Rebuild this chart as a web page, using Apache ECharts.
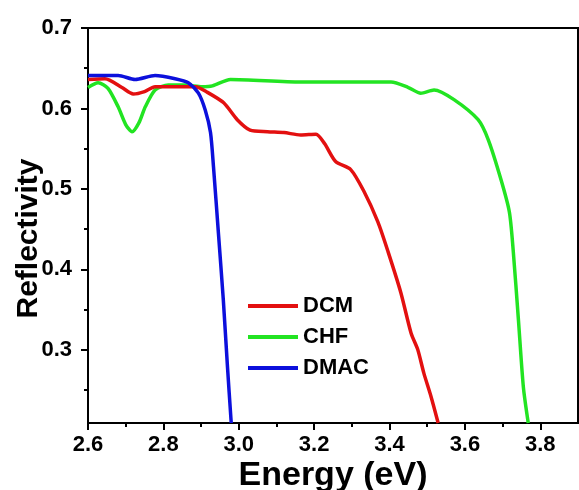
<!DOCTYPE html>
<html>
<head>
<meta charset="utf-8">
<script src="https://cdn.jsdelivr.net/npm/echarts@6/dist/echarts.min.js"></script>
<style>html,body{margin:0;padding:0;background:#fff}#c{width:579px;height:490px}</style>
</head>
<body>
<div id="c"></div>
<script>
const seriesNames = ['DCM', 'CHF', 'DMAC'];
const dcmE = [2.600, 2.645, 2.690, 2.720, 2.750, 2.778, 2.830, 2.885, 2.917, 2.960, 2.996, 3.030, 3.076, 3.120, 3.164, 3.205, 3.228, 3.257, 3.297, 3.332, 3.369, 3.396, 3.430, 3.457, 3.475, 3.491, 3.510, 3.529];
const dcmR = [0.636, 0.637, 0.626, 0.618, 0.621, 0.627, 0.627, 0.627, 0.620, 0.607, 0.586, 0.573, 0.571, 0.570, 0.567, 0.568, 0.556, 0.534, 0.524, 0.497, 0.459, 0.422, 0.371, 0.321, 0.300, 0.271, 0.242, 0.209];
const chfE = [2.600, 2.627, 2.653, 2.680, 2.700, 2.717, 2.735, 2.752, 2.778, 2.813, 2.858, 2.903, 2.930, 2.978, 3.164, 3.404, 3.450, 3.483, 3.518, 3.571, 3.635, 3.662, 3.696, 3.718, 3.728, 3.742, 3.755, 3.768];
const chfR = [0.626, 0.632, 0.625, 0.602, 0.580, 0.571, 0.582, 0.602, 0.623, 0.629, 0.629, 0.627, 0.628, 0.636, 0.633, 0.633, 0.626, 0.619, 0.623, 0.611, 0.586, 0.561, 0.511, 0.471, 0.424, 0.337, 0.254, 0.209];
const dmacE = [2.600, 2.650, 2.680, 2.725, 2.778, 2.831, 2.866, 2.893, 2.911, 2.925, 2.933, 2.946, 2.959, 2.970, 2.980];
const dmacR = [0.641, 0.641, 0.641, 0.636, 0.641, 0.637, 0.632, 0.619, 0.598, 0.570, 0.527, 0.445, 0.362, 0.279, 0.209];
const xMajor = [2.6, 2.8, 3.0, 3.2, 3.4, 3.6, 3.8];
const xMinor = [2.7, 2.9, 3.1, 3.3, 3.5, 3.7];
const yMajor = [0.3, 0.4, 0.5, 0.6, 0.7];
const yMinor = [0.25, 0.35, 0.45, 0.55, 0.65];

const colors = ['#e31010', '#22e422', '#0c10dc'];
const font = "'Liberation Sans', Arial, sans-serif";
const zip = (a, b) => a.map((v, i) => [v, b[i]]);
const dataSets = [zip(dcmE, dcmR), zip(chfE, chfR), zip(dmacE, dmacR)];

const chart = echarts.init(document.getElementById('c'));
chart.setOption({
  animation: false,
  grid: { left: 88, right: 1, top: 28, bottom: 67, show: true, borderColor: '#000', borderWidth: 2, containLabel: false, outerBoundsMode: 'none' },
  legend: {
    orient: 'vertical', left: 243, top: 290, itemWidth: 50, itemHeight: 4, itemGap: 9,
    icon: 'rect',
    textStyle: { fontFamily: font, fontWeight: 'bold', fontSize: 22, color: '#000' },
    data: seriesNames
  },
  xAxis: [{
    type: 'value', min: 2.6, max: 3.9,
    name: 'Energy (eV)', nameLocation: 'middle', nameGap: 36, nameMoveOverlap: false,
    nameTextStyle: { fontFamily: font, fontWeight: 'bold', fontSize: 34, color: '#000' },
    axisLine: { show: true, lineStyle: { color: '#000', width: 2 } },
    axisTick: { show: true, customValues: xMajor, length: 7, lineStyle: { color: '#000', width: 2 } },
    axisLabel: { customValues: xMajor, margin: 11, fontFamily: font, fontWeight: 'bold', fontSize: 22, color: '#000', formatter: v => v.toFixed(1) },
    splitLine: { show: false }
  }, {
    type: 'value', min: 2.6, max: 3.9, position: 'bottom',
    axisLine: { show: false },
    axisTick: { show: true, customValues: xMinor, length: 4, lineStyle: { color: '#000', width: 2 } },
    axisLabel: { show: false }, splitLine: { show: false }
  }],
  yAxis: [{
    type: 'value', min: 0.209, max: 0.7,
    name: 'Reflectivity', nameLocation: 'middle', nameGap: 44, nameMoveOverlap: false,
    nameTextStyle: { fontFamily: font, fontWeight: 'bold', fontSize: 30, color: '#000', padding: [0, 26, 0, 0] },
    axisLine: { show: true, lineStyle: { color: '#000', width: 2 } },
    axisTick: { show: true, customValues: yMajor, length: 7, lineStyle: { color: '#000', width: 2 } },
    axisLabel: { customValues: yMajor, margin: 16, fontFamily: font, fontWeight: 'bold', fontSize: 22, color: '#000', formatter: v => v.toFixed(1) },
    splitLine: { show: false }
  }, {
    type: 'value', min: 0.209, max: 0.7, position: 'left',
    axisLine: { show: false },
    axisTick: { show: true, customValues: yMinor, length: 4, lineStyle: { color: '#000', width: 2 } },
    axisLabel: { show: false }, splitLine: { show: false }
  }],
  series: seriesNames.map((n, i) => ({
    name: n, type: 'line', data: dataSets[i], smooth: 0.25, symbol: 'none',
    xAxisIndex: 0, yAxisIndex: 0,
    lineStyle: { color: colors[i], width: 3.5 }, itemStyle: { color: colors[i] },
    z: i === 2 ? 4 : (i === 0 ? 3 : 2)
  }))
});
</script>
</body>
</html>
